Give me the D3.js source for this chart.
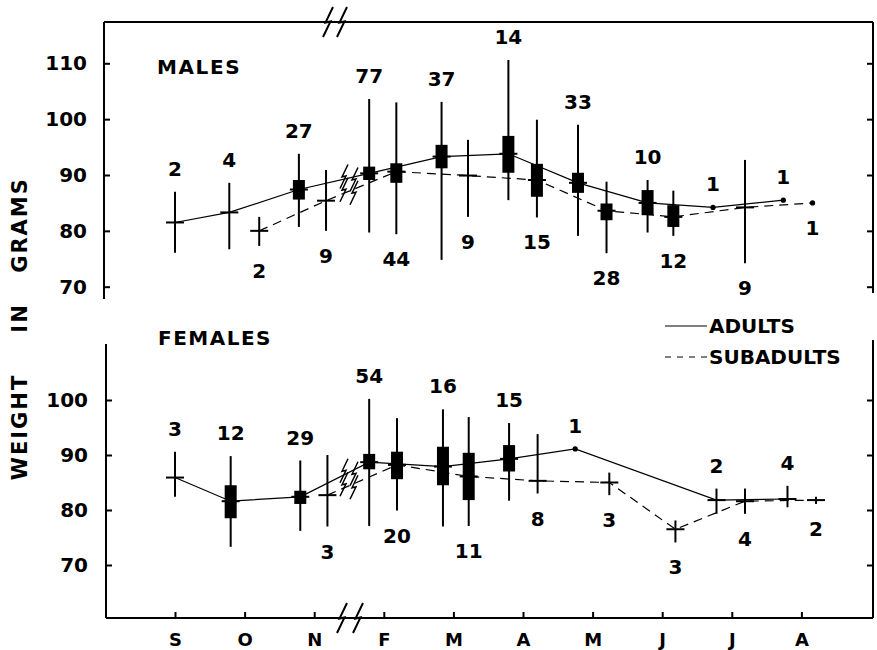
<!DOCTYPE html>
<html>
<head>
<meta charset="utf-8">
<script src="https://cdn.jsdelivr.net/npm/d3@7"></script>
<style>
  body { margin: 0; background: #fff; }
  svg { display: block; }
</style>
</head>
<body>
<div id="chart"></div>
<script>
// month ticks along the bottom (Dec/Jan are cut out by the break)
var months = ["S", "O", "N", "F", "M", "A", "M", "J", "J", "A"];
var maleTicks = [70, 80, 90, 100, 110];
var femaleTicks = [70, 80, 90, 100];

// rows: [position (months after S), n, mean, min, max, boxLo, boxHi]
var maleAdults = [
    [0.00, 2, 81.5, 76.1, 87.0, null, null],
    [0.78, 4, 83.3, 76.7, 88.6, null, null],
    [1.78, 27, 87.4, 80.7, 93.8, 85.6, 89.1],
    [2.79, 77, 90.3, 79.7, 103.6, 89.1, 91.5],
    [3.83, 37, 93.3, 74.8, 103.1, 91.2, 95.4],
    [4.79, 14, 93.8, 85.5, 110.6, 90.4, 97.0],
    [5.79, 33, 88.6, 79.1, 99.0, 86.8, 90.4],
    [6.79, 10, 85.0, 79.7, 89.1, 82.8, 87.3],
    [7.73, 1, 84.2, null, null, null, null],
    [8.74, 1, 85.5, null, null, null, null]
];
var maleSubadults = [
    [1.21, 2, 80.0, 77.3, 82.5, null, null],
    [2.17, 9, 85.4, 80.0, 90.9, null, null],
    [3.18, 44, 90.6, 79.4, 103.0, 88.6, 92.1],
    [4.21, 9, 89.9, 82.5, 96.3, null, null],
    [5.20, 15, 89.1, 82.4, 99.9, 86.1, 92.0],
    [6.20, 28, 83.6, 76.0, 88.8, 81.9, 84.9],
    [7.16, 12, 82.5, 79.1, 87.2, 80.7, 84.6],
    [8.19, 9, 84.2, 74.2, 92.7, null, null],
    [9.16, 1, 85.0, null, null, null, null]
];
var femaleAdults = [
    [0.00, 3, 85.9, 82.4, 90.6, null, null],
    [0.80, 12, 81.6, 73.3, 89.8, 78.5, 84.5],
    [1.80, 29, 82.4, 76.2, 89.0, 81.1, 83.5],
    [2.79, 54, 88.7, 77.1, 100.2, 87.4, 90.2],
    [3.85, 16, 87.9, 77.0, 98.3, 84.5, 91.5],
    [4.80, 15, 89.3, 81.7, 95.8, 87.0, 91.8],
    [5.75, 1, 91.1, null, null, null, null],
    [7.78, 2, 81.8, 79.3, 83.9, null, null],
    [8.80, 4, 82.0, 80.5, 84.4, null, null]
];
var femaleSubadults = [
    [2.19, 3, 82.7, 77.0, 90.0, null, null],
    [3.19, 20, 88.2, 79.9, 96.7, 85.6, 90.6],
    [4.22, 11, 86.1, 77.1, 96.9, 81.8, 90.4],
    [5.21, 8, 85.3, 83.0, 93.8, null, null],
    [6.24, 3, 85.0, 82.7, 86.8, null, null],
    [7.19, 3, 76.5, 74.1, 78.1, null, null],
    [8.19, 4, 81.6, 79.3, 83.9, null, null],
    [9.21, 2, 81.8, 81.1, 82.4, null, null]
];
var breakAt = 2.5; // where Dec-Jan is cut out

var width = 877, height = 650;
var frameL = 104, frameLF = 106, frameR = 873, frameT = 22, frameB = 618;

var svg = d3.select("#chart").append("svg")
    .attr("width", width)
    .attr("height", height)
    .style("font-family", "'DejaVu Sans', sans-serif")
    .style("font-weight", "bold");

var x = d3.scaleLinear().domain([0, 9]).range([175, 801.4]);
var yM = d3.scaleLinear().domain([70, 110]).range([286.7, 63.3]);
var yF = d3.scaleLinear().domain([70, 100]).range([565, 400]);

// lightning-bolt break mark
function zig(cx, cy, h) {
    var k = h / 24;
    return "M" + (cx + 4 * k) + "," + (cy - 12 * k) +
        "L" + (cx - 2 * k) + "," + (cy + 0.5) +
        "L" + (cx + 2 * k) + "," + (cy - 0.5) +
        "L" + (cx - 4 * k) + "," + (cy + 12 * k);
}

// frame
var frame = svg.append("g").attr("stroke", "#000").attr("stroke-width", 2).attr("fill", "none");
frame.append("line").attr("x1", frameL).attr("x2", frameR).attr("y1", frameT).attr("y2", frameT);
frame.append("line").attr("x1", frameL).attr("x2", frameL).attr("y1", frameT).attr("y2", 299);
frame.append("line").attr("x1", frameLF).attr("x2", frameLF).attr("y1", 344).attr("y2", frameB);
frame.append("line").attr("x1", frameR).attr("x2", frameR).attr("y1", frameT).attr("y2", 293);
frame.append("line").attr("x1", frameR).attr("x2", frameR).attr("y1", 340).attr("y2", frameB);
frame.append("line").attr("x1", frameLF).attr("x2", frameR).attr("y1", frameB).attr("y2", frameB);
frame.selectAll(".zt").data([328, 342]).enter().append("path")
    .attr("d", function(d) { return zig(d, frameT, 30); });
frame.selectAll(".zb").data([x(breakAt) - 7, x(breakAt) + 9]).enter().append("path")
    .attr("d", function(d) { return zig(d, frameB, 30); });

function styleAxis(g) {
    g.select(".domain").remove();
    g.attr("font-size", null).attr("font-family", null);
    g.selectAll("line").attr("stroke-width", 2);
    g.selectAll("text").attr("fill", "#000");
}

// y axes, ticks pointing inward
svg.append("g").attr("transform", "translate(" + frameL + ",0)")
    .call(d3.axisLeft(yM).tickValues(maleTicks).tickSizeInner(-6).tickSizeOuter(0).tickPadding(17))
    .call(styleAxis).style("font-size", "20px");
svg.append("g").attr("transform", "translate(" + frameLF + ",0)")
    .call(d3.axisLeft(yF).tickValues(femaleTicks).tickSizeInner(-6).tickSizeOuter(0).tickPadding(18))
    .call(styleAxis).style("font-size", "20px");
svg.append("g").attr("transform", "translate(" + frameR + ",0)")
    .call(d3.axisRight(yM).tickValues(maleTicks).tickSizeInner(-6).tickSizeOuter(0).tickFormat(""))
    .call(styleAxis);
svg.append("g").attr("transform", "translate(" + frameR + ",0)")
    .call(d3.axisRight(yF).tickValues(femaleTicks).tickSizeInner(-6).tickSizeOuter(0).tickFormat(""))
    .call(styleAxis);

// month axis
svg.append("g").attr("transform", "translate(0," + frameB + ")")
    .call(d3.axisBottom(x).tickValues(d3.range(months.length))
        .tickFormat(function(d) { return months[d]; })
        .tickSizeInner(-6).tickSizeOuter(0).tickPadding(15))
    .call(styleAxis).style("font-size", "18px");

// y title
var titles = [["WEIGHT", 427], ["IN", 318], ["GRAMS", 225]];
svg.selectAll(".ytitle").data(titles).enter().append("text")
    .attr("transform", function(d) { return "translate(27," + d[1] + ") rotate(-90)"; })
    .attr("text-anchor", "middle")
    .style("font-size", "21px")
    .style("letter-spacing", "2px")
    .text(function(d) { return d[0]; });

svg.append("text").attr("x", 157).attr("y", 74).style("font-size", "20px")
    .style("letter-spacing", "1.6px").text("MALES");
svg.append("text").attr("x", 158).attr("y", 345).style("font-size", "20px")
    .style("letter-spacing", "1.5px").text("FEMALES");

// legend
var legend = svg.append("g");
legend.append("line").attr("x1", 665).attr("x2", 707).attr("y1", 326).attr("y2", 326)
    .attr("stroke", "#000").attr("stroke-width", 1.2);
legend.append("line").attr("x1", 665).attr("x2", 707).attr("y1", 357).attr("y2", 357)
    .attr("stroke", "#000").attr("stroke-width", 1.2).attr("stroke-dasharray", "6,6");
legend.append("text").attr("x", 709).attr("y", 333).style("font-size", "20px").text("ADULTS");
legend.append("text").attr("x", 709).attr("y", 364).style("font-size", "20px").text("SUBADULTS");

function drawSeries(rows, y, dashed, above) {
    var g = svg.append("g");
    var line = d3.line().x(function(d) { return x(d[0]); }).y(function(d) { return y(d[2]); });
    g.append("path").datum(rows)
        .attr("d", line)
        .attr("fill", "none")
        .attr("stroke", "#000")
        .attr("stroke-width", 1.2)
        .attr("stroke-dasharray", dashed ? "9,6" : null);

    var withRange = rows.filter(function(d) { return d[3] != null; });
    g.selectAll(".range").data(withRange).enter().append("line")
        .attr("x1", function(d) { return x(d[0]); })
        .attr("x2", function(d) { return x(d[0]); })
        .attr("y1", function(d) { return y(d[3]); })
        .attr("y2", function(d) { return y(d[4]); })
        .attr("stroke", "#000").attr("stroke-width", 2);
    g.selectAll(".box").data(rows.filter(function(d) { return d[5] != null; })).enter().append("rect")
        .attr("x", function(d) { return x(d[0]) - 6; })
        .attr("width", 12)
        .attr("y", function(d) { return y(d[6]); })
        .attr("height", function(d) { return y(d[5]) - y(d[6]); })
        .attr("fill", "#000");
    g.selectAll(".mean").data(withRange).enter().append("line")
        .attr("x1", function(d) { return x(d[0]) - 9; })
        .attr("x2", function(d) { return x(d[0]) + 9; })
        .attr("y1", function(d) { return y(d[2]); })
        .attr("y2", function(d) { return y(d[2]); })
        .attr("stroke", "#000").attr("stroke-width", 2);
    g.selectAll(".dot").data(rows.filter(function(d) { return d[3] == null; })).enter().append("circle")
        .attr("cx", function(d) { return x(d[0]); })
        .attr("cy", function(d) { return y(d[2]); })
        .attr("r", 2.6)
        .attr("fill", "#000");

    // sample sizes
    g.selectAll(".n").data(rows).enter().append("text")
        .attr("x", function(d) { return x(d[0]); })
        .attr("y", function(d) {
            if (above) return (d[4] != null ? y(d[4]) : y(d[2])) - 16;
            return (d[3] != null ? y(d[3]) : y(d[2])) + 32;
        })
        .attr("text-anchor", "middle")
        .style("font-size", "20px")
        .text(function(d) { return d[1]; });

    // break marks where the line crosses the cut
    var i = d3.bisector(function(d) { return d[0]; }).left(rows, breakAt);
    if (i > 0 && i < rows.length) {
        var a = rows[i - 1], b = rows[i];
        var t = (breakAt - a[0]) / (b[0] - a[0]);
        var yb = y(a[2] + t * (b[2] - a[2]));
        g.selectAll(".brk").data([-5, 5]).enter().append("path")
            .attr("d", function(d) { return zig(x(breakAt) + d, yb + d * 0.3, 24); })
            .attr("fill", "none").attr("stroke", "#000").attr("stroke-width", 1.5);
    }
}

drawSeries(maleAdults, yM, false, true);
drawSeries(maleSubadults, yM, true, false);
drawSeries(femaleAdults, yF, false, true);
drawSeries(femaleSubadults, yF, true, false);
</script>
</body>
</html>
